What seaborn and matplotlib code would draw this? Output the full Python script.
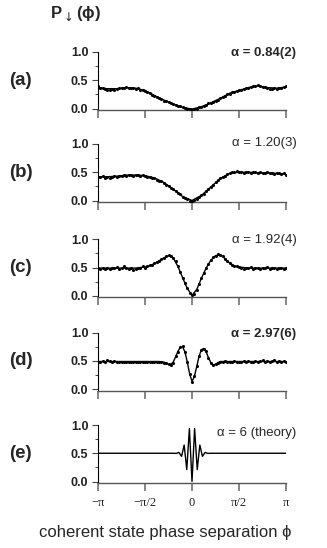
import numpy as np
import matplotlib
matplotlib.use("Agg")
import matplotlib.pyplot as plt
import seaborn as sns

sns.set_theme(style="ticks")
plt.rcParams['font.family'] = ['Liberation Sans', 'DejaVu Sans']

# ---------------- data ----------------
panel_labels = ["(a)", "(b)", "(c)", "(d)", "(e)"]
alpha_labels = ["α = 0.84(2)", "α = 1.20(3)", "α = 1.92(4)", "α = 2.97(6)", "α = 6 (theory)"]
alpha_weights = ["bold", "normal", "normal", "bold", "normal"]
alpha_label_y = [0.98, 1.02, 0.99, 0.98, 0.86]
xtick_pos = [-1.0, -0.5, 0.0, 0.5, 1.0]          # in units of pi
xtick_labels = ["−π", "−π/2", "0", "π/2", "π"]
ytick_vals = [0.0, 0.5, 1.0]
ytick_labels = ["0.0", "0.5", "1.0"]
yminor_vals = [0.25, 0.75]

# measured points (phase from -pi to pi, evenly spaced)
data_a = [0.39, 0.37, 0.36, 0.35, 0.33, 0.32, 0.34, 0.33, 0.35, 0.36,
          0.37, 0.36, 0.38, 0.37, 0.36, 0.37, 0.35, 0.36, 0.33, 0.33,
          0.31, 0.29, 0.27, 0.24, 0.23, 0.20, 0.18, 0.17, 0.14, 0.14,
          0.11, 0.10, 0.08, 0.07, 0.04, 0.04, 0.02, 0.01, 0.00, -0.01,
          -0.02, 0.00, -0.01, 0.02, 0.03, 0.05, 0.06, 0.09, 0.09, 0.12,
          0.14, 0.15, 0.18, 0.20, 0.22, 0.25, 0.26, 0.29, 0.29, 0.31,
          0.32, 0.33, 0.34, 0.36, 0.37, 0.38, 0.40, 0.39, 0.41, 0.39,
          0.38, 0.38, 0.36, 0.35, 0.34, 0.36, 0.35, 0.37, 0.36, 0.38,
          0.39]
data_b = [0.42, 0.41, 0.43, 0.40, 0.42, 0.40, 0.41, 0.43, 0.42, 0.44,
          0.43, 0.45, 0.44, 0.46, 0.45, 0.44, 0.46, 0.45, 0.44, 0.45,
          0.43, 0.42, 0.42, 0.40, 0.39, 0.37, 0.35, 0.34, 0.31, 0.28,
          0.26, 0.23, 0.20, 0.17, 0.13, 0.11, 0.07, 0.05, 0.02, 0.00,
          -0.01, 0.01, 0.03, 0.06, 0.09, 0.12, 0.16, 0.20, 0.24, 0.28,
          0.32, 0.36, 0.39, 0.42, 0.44, 0.47, 0.48, 0.51, 0.50, 0.52,
          0.50, 0.51, 0.49, 0.51, 0.50, 0.49, 0.51, 0.50, 0.48, 0.50,
          0.49, 0.48, 0.50, 0.48, 0.49, 0.47, 0.48, 0.49, 0.47, 0.48,
          0.46]
data_c = [0.50, 0.48, 0.49, 0.47, 0.49, 0.48, 0.50, 0.49, 0.51, 0.48,
          0.50, 0.53, 0.49, 0.47, 0.50, 0.46, 0.48, 0.50, 0.49, 0.52,
          0.50, 0.53, 0.54, 0.55, 0.58, 0.60, 0.62, 0.65, 0.67, 0.70,
          0.72, 0.71, 0.67, 0.61, 0.52, 0.42, 0.32, 0.22, 0.13, 0.05,
          0.01, 0.04, 0.11, 0.21, 0.31, 0.41, 0.49, 0.57, 0.63, 0.69,
          0.71, 0.74, 0.73, 0.70, 0.66, 0.62, 0.58, 0.55, 0.52, 0.53,
          0.51, 0.50, 0.48, 0.50, 0.49, 0.51, 0.48, 0.50, 0.49, 0.48,
          0.50, 0.49, 0.51, 0.48, 0.49, 0.50, 0.48, 0.49, 0.50, 0.48,
          0.49]
data_d = [0.49, 0.48, 0.50, 0.49, 0.51, 0.50, 0.49, 0.50, 0.48, 0.49,
          0.48, 0.49, 0.48, 0.49, 0.48, 0.49, 0.48, 0.49, 0.48, 0.49,
          0.48, 0.49, 0.48, 0.49, 0.48, 0.49, 0.48, 0.49, 0.47, 0.46,
          0.44, 0.43, 0.47, 0.58, 0.66, 0.75, 0.76, 0.66, 0.49, 0.27,
          0.13, 0.23, 0.41, 0.58, 0.70, 0.72, 0.67, 0.55, 0.47, 0.43,
          0.44, 0.47, 0.48, 0.49, 0.50, 0.49, 0.48, 0.49, 0.50, 0.49,
          0.48, 0.49, 0.50, 0.49, 0.50, 0.49, 0.48, 0.50, 0.49, 0.50,
          0.51, 0.49, 0.50, 0.49, 0.50, 0.51, 0.49, 0.50, 0.49, 0.50,
          0.49]

# fitted curves (x in units of pi)
fit_a_x = [-1.0, -0.9, -0.8, -0.7, -0.6, -0.5, -0.4, -0.3, -0.2, -0.1, 0.0,
           0.1, 0.2, 0.3, 0.4, 0.5, 0.6, 0.7, 0.8, 0.9, 1.0]
fit_a_y = [0.37, 0.35, 0.35, 0.37, 0.36, 0.32, 0.23, 0.15, 0.08, 0.02, -0.01,
           0.03, 0.10, 0.18, 0.27, 0.32, 0.37, 0.40, 0.37, 0.36, 0.38]
fit_b_x = fit_a_x
fit_b_y = [0.42, 0.42, 0.43, 0.45, 0.45, 0.44, 0.40, 0.32, 0.20, 0.07, 0.00,
           0.09, 0.24, 0.39, 0.48, 0.50, 0.50, 0.49, 0.49, 0.48, 0.47]
fit_c_x = [-1.0, -0.95, -0.9, -0.85, -0.8, -0.75, -0.7, -0.65, -0.6,
           -0.55, -0.5, -0.45, -0.4, -0.35, -0.3, -0.25, -0.2, -0.15, -0.1, -0.05, 0.0,
           0.05, 0.1, 0.15, 0.2, 0.25, 0.3, 0.35, 0.4, 0.45, 0.5, 0.55,
           0.6, 0.65, 0.7, 0.75, 0.8, 0.85, 0.9, 0.95, 1.0]
fit_c_y = [0.49, 0.49, 0.49, 0.49, 0.49, 0.49, 0.49, 0.49, 0.49,
           0.50, 0.51, 0.53, 0.57, 0.62, 0.67, 0.71, 0.67, 0.52, 0.32, 0.13, 0.01,
           0.11, 0.31, 0.49, 0.63, 0.71, 0.73, 0.66, 0.58, 0.53, 0.51, 0.50,
           0.49, 0.49, 0.49, 0.49, 0.49, 0.49, 0.49, 0.49, 0.49]
fit_d_x = [-1.0, -0.35, -0.3, -0.275, -0.25, -0.225, -0.2, -0.175, -0.15, -0.125,
           -0.1, -0.075, -0.05, -0.025, 0.0, 0.025, 0.05, 0.075, 0.1, 0.125,
           0.15, 0.175, 0.2, 0.225, 0.25, 0.275, 0.3, 0.35, 1.0]
fit_d_y = [0.49, 0.49, 0.48, 0.46, 0.44, 0.44, 0.48, 0.57, 0.67, 0.74,
           0.75, 0.66, 0.48, 0.27, 0.14, 0.22, 0.40, 0.58, 0.70, 0.72,
           0.66, 0.56, 0.47, 0.43, 0.44, 0.47, 0.49, 0.49, 0.49]
theory_e_x = [-1.0, -0.1944, -0.1667, -0.1389, -0.1111, -0.0833, -0.0556, -0.0278, 0.0,
              0.0278, 0.0556, 0.0833, 0.1111, 0.1389, 0.1667, 0.1944, 1.0]
theory_e_y = [0.5, 0.5, 0.497, 0.515, 0.445, 0.646, 0.211, 0.936, 0.0,
              0.936, 0.211, 0.646, 0.445, 0.515, 0.497, 0.5, 0.5]

datasets = [data_a, data_b, data_c, data_d, None]
fits = [(fit_a_x, fit_a_y), (fit_b_x, fit_b_y), (fit_c_x, fit_c_y),
        (fit_d_x, fit_d_y), (theory_e_x, theory_e_y)]

# ---------------- layout ----------------
W, H = 327, 548
fig = plt.figure(figsize=(W / 100, H / 100), dpi=100)
fig.patch.set_facecolor("white")

left_px, right_px = 98, 286
top_px = [52, 144, 239.3, 332.7, 425]
px_per_unit = 56.5
ymin, ymax = -0.03, 1.0
h_px = (ymax - ymin) * px_per_unit

for i in range(5):
    b = 1 - (top_px[i] + h_px) / H
    ax = fig.add_axes([left_px / W, b, (right_px - left_px) / W, h_px / H])
    ax.set_facecolor("white")
    fx, fy = fits[i]
    if datasets[i] is not None:
        d = datasets[i]
        xs = np.linspace(-1, 1, len(d)) * np.pi
        sns.scatterplot(x=xs, y=d, ax=ax, color="black", s=5, marker="o",
                        linewidth=0, zorder=3)
    sns.lineplot(x=np.array(fx) * np.pi, y=fy, ax=ax, color="black",
                 linewidth=1.0, estimator=None, sort=False, zorder=2)
    ax.set_xlim(-np.pi, np.pi)
    ax.set_ylim(ymin, ymax)
    for s in ["top", "right"]:
        ax.spines[s].set_visible(False)
    ax.spines["left"].set_color("black")
    ax.spines["left"].set_linewidth(0.8)
    ax.spines["bottom"].set_color("#555555")
    ax.spines["bottom"].set_linewidth(1.0)
    ax.set_xticks(np.array(xtick_pos) * np.pi)
    if i == 4:
        ax.set_xticklabels(xtick_labels, family=["Liberation Serif", "DejaVu Serif"],
                           fontsize=9, color="#222222")
    else:
        ax.set_xticklabels([])
    ax.set_yticks(ytick_vals)
    ax.set_yticklabels(ytick_labels, fontsize=9, fontweight="bold", color="#222222")
    ax.set_yticks(yminor_vals, minor=True)
    ax.tick_params(axis="x", direction="out", length=6, width=1.1, color="#666666", pad=4)
    ax.tick_params(axis="y", which="major", direction="out", length=4, width=0.8,
                   color="#444444", pad=3)
    ax.tick_params(axis="y", which="minor", direction="out", length=2, width=0.7,
                   color="#444444")
    ax.set_xlabel("")
    ax.set_ylabel("")
    ax.text(-0.41, 0.5, panel_labels[i], transform=ax.get_yaxis_transform(),
            ha="center", va="center", fontsize=13.5, fontweight="bold")
    ax.text(1.055, alpha_label_y[i], alpha_labels[i], transform=ax.get_yaxis_transform(),
            ha="right", va="center", fontsize=9.5, fontweight=alpha_weights[i],
            clip_on=False)

fig.text(75 / W, 1 - 14 / H, r"P$_{\downarrow}$(ϕ)", ha="center", va="center",
         fontsize=12, fontweight="bold")
fig.text(165 / W, 1 - 533 / H, "coherent state phase separation ϕ", ha="center",
         va="center", fontsize=12)

fig.savefig("out.png", dpi=100, facecolor="white")
